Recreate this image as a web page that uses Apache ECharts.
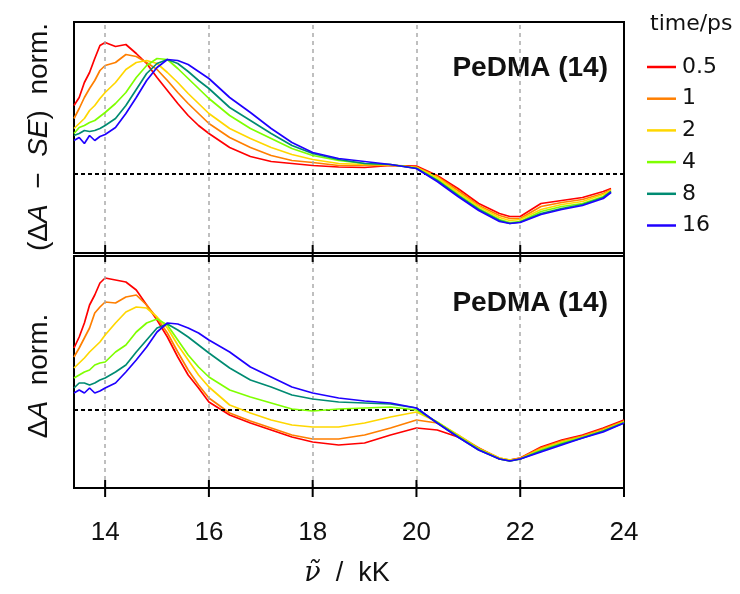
<!DOCTYPE html>
<html><head><meta charset="utf-8">
<script src="https://cdn.jsdelivr.net/npm/echarts@6/dist/echarts.min.js"></script>
<style>html,body{margin:0;padding:0;background:#fff}#c{width:740px;height:594px}</style>
</head><body><div id="c"></div>
<script>
// wavenumber sample points (kK)
const xTop = [13.4,13.5,13.6,13.7,13.8,13.9,14.0,14.2,14.4,14.6,14.8,15.0,15.2,15.4,15.6,15.8,16.0,16.4,16.8,17.2,17.6,18.0,18.5,19.0,19.5,20.0,20.4,20.8,21.2,21.6,21.8,22.0,22.4,22.8,23.2,23.6,23.75];
const xBot = [13.4,13.5,13.6,13.7,13.8,13.9,14.0,14.2,14.4,14.6,14.8,15.0,15.2,15.4,15.6,15.8,16.0,16.4,16.8,17.2,17.6,18.0,18.5,19.0,19.5,20.0,20.4,20.8,21.2,21.6,21.8,22.0,22.4,22.8,23.2,23.6,24.0];
const times = ['0.5','1','2','4','8','16'];
const colors = ['#ff0000','#ff7f00','#ffd700','#7fff00','#008b72','#1f00ff'];
const xTicks = [14,16,18,20,22,24];

// (ΔA − SE) norm.
const top_05 = [0.68,0.76,0.91,1.01,1.15,1.28,1.31,1.27,1.29,1.20,1.10,0.96,0.83,0.70,0.58,0.48,0.40,0.26,0.17,0.12,0.10,0.08,0.065,0.06,0.08,0.075,-0.02,-0.15,-0.30,-0.40,-0.43,-0.43,-0.30,-0.27,-0.24,-0.18,-0.15];
const top_1  = [0.55,0.65,0.76,0.85,0.93,1.03,1.08,1.11,1.19,1.17,1.11,1.04,0.93,0.81,0.70,0.60,0.50,0.36,0.26,0.18,0.13,0.11,0.08,0.08,0.08,0.065,-0.03,-0.17,-0.32,-0.42,-0.45,-0.45,-0.33,-0.29,-0.26,-0.20,-0.16];
const top_2  = [0.45,0.50,0.55,0.63,0.68,0.75,0.81,0.91,1.04,1.11,1.13,1.10,1.01,0.91,0.80,0.70,0.60,0.45,0.35,0.26,0.19,0.14,0.10,0.09,0.085,0.06,-0.04,-0.19,-0.33,-0.44,-0.47,-0.46,-0.36,-0.31,-0.28,-0.21,-0.17];
const top_4  = [0.40,0.46,0.48,0.51,0.53,0.57,0.61,0.70,0.81,0.96,1.08,1.15,1.14,1.05,0.95,0.85,0.75,0.58,0.45,0.35,0.25,0.18,0.13,0.10,0.09,0.055,-0.06,-0.21,-0.35,-0.46,-0.49,-0.48,-0.38,-0.33,-0.30,-0.23,-0.18];
const top_8  = [0.38,0.40,0.43,0.42,0.43,0.45,0.48,0.55,0.68,0.84,1.00,1.10,1.14,1.10,1.02,0.93,0.85,0.66,0.53,0.40,0.28,0.20,0.14,0.10,0.09,0.05,-0.07,-0.22,-0.36,-0.47,-0.50,-0.485,-0.40,-0.35,-0.31,-0.24,-0.18];
const top_16 = [0.33,0.36,0.30,0.38,0.33,0.37,0.39,0.46,0.60,0.76,0.93,1.06,1.14,1.13,1.09,1.02,0.95,0.76,0.61,0.45,0.31,0.21,0.15,0.12,0.09,0.05,-0.08,-0.23,-0.37,-0.48,-0.50,-0.49,-0.41,-0.36,-0.32,-0.25,-0.19];

// ΔA norm.
const bot_05 = [0.62,0.73,0.87,1.05,1.15,1.27,1.32,1.30,1.28,1.20,1.05,0.90,0.73,0.53,0.35,0.22,0.08,-0.05,-0.13,-0.20,-0.27,-0.32,-0.35,-0.33,-0.25,-0.18,-0.20,-0.27,-0.38,-0.49,-0.50,-0.48,-0.37,-0.30,-0.25,-0.18,-0.10];
const bot_1  = [0.53,0.62,0.72,0.82,0.97,1.03,1.08,1.07,1.13,1.15,1.05,0.92,0.77,0.58,0.40,0.25,0.12,-0.03,-0.11,-0.18,-0.25,-0.29,-0.29,-0.25,-0.18,-0.10,-0.13,-0.25,-0.38,-0.48,-0.50,-0.48,-0.38,-0.31,-0.26,-0.19,-0.11];
const bot_2  = [0.42,0.47,0.52,0.58,0.63,0.68,0.75,0.87,0.98,1.03,1.02,0.93,0.82,0.65,0.50,0.35,0.23,0.05,-0.03,-0.10,-0.15,-0.17,-0.17,-0.13,-0.07,-0.02,-0.12,-0.25,-0.39,-0.48,-0.50,-0.49,-0.39,-0.32,-0.27,-0.20,-0.12];
const bot_4  = [0.32,0.35,0.38,0.40,0.45,0.47,0.48,0.58,0.65,0.78,0.87,0.91,0.85,0.70,0.55,0.43,0.33,0.20,0.13,0.07,0.01,-0.01,0.01,0.02,0.03,0.00,-0.12,-0.26,-0.39,-0.49,-0.51,-0.49,-0.40,-0.33,-0.27,-0.21,-0.12];
const bot_8  = [0.22,0.27,0.27,0.25,0.27,0.30,0.32,0.38,0.45,0.58,0.70,0.82,0.86,0.80,0.73,0.65,0.57,0.42,0.30,0.23,0.15,0.11,0.08,0.07,0.06,0.02,-0.13,-0.27,-0.40,-0.49,-0.51,-0.49,-0.41,-0.34,-0.28,-0.21,-0.13];
const bot_16 = [0.17,0.20,0.17,0.22,0.17,0.19,0.22,0.27,0.38,0.50,0.63,0.78,0.87,0.86,0.82,0.77,0.70,0.58,0.43,0.33,0.23,0.17,0.12,0.09,0.07,0.02,-0.13,-0.27,-0.40,-0.49,-0.51,-0.49,-0.42,-0.35,-0.28,-0.22,-0.13];

const topSets = [top_05, top_1, top_2, top_4, top_8, top_16];
const botSets = [bot_05, bot_1, bot_2, bot_4, bot_8, bot_16];

const FONT = 'Liberation Sans';
const TOP_MIN = -0.795, TOP_MAX = 1.515, BOT_MIN = -0.78, BOT_MAX = 1.54;
const chart = echarts.init(document.getElementById('c'), null, {renderer: 'canvas'});

function pairs(xs, ys) { return xs.map((x, i) => [x, ys[i]]); }

const series = [];
[0, 1].forEach(g => {
  series.push({
    name: 'ref' + g, type: 'line', data: [], xAxisIndex: g, yAxisIndex: g, z: 1, silent: true,
    markLine: {
      silent: true, symbol: 'none', animation: false, label: {show: false},
      lineStyle: {color: '#aaaaaa', type: [4, 4], width: 1.5},
      data: xTicks.slice(0, 5).map(v => ({xAxis: v})).concat([
        {yAxis: 0, lineStyle: {color: '#000', type: [4, 3], width: 1.8}}
      ])
    }
  });
  // tick marks crossing the bottom frame, drawn through the axis scales
  const ymin = g === 0 ? TOP_MIN : BOT_MIN;
  series.push({
    name: 'ticks' + g, type: 'custom', xAxisIndex: g, yAxisIndex: g, z: 50, silent: true, clip: false,
    data: xTicks.map(v => [v, ymin]),
    renderItem: function (params, api) {
      const p = api.coord([api.value(0), api.value(1)]);
      return {type: 'line', shape: {x1: p[0], y1: p[1] - 8, x2: p[0], y2: p[1] + 9},
        style: {stroke: '#000', lineWidth: 2}};
    }
  });
});
times.forEach((t, i) => {
  series.push({
    name: t, type: 'line', xAxisIndex: 0, yAxisIndex: 0, showSymbol: false, symbol: 'none', z: 3 + i,
    lineStyle: {color: colors[i], width: 1.7}, itemStyle: {color: colors[i]},
    data: pairs(xTop, topSets[i])
  });
  series.push({
    name: t, type: 'line', xAxisIndex: 1, yAxisIndex: 1, showSymbol: false, symbol: 'none', z: 3 + i,
    lineStyle: {color: colors[i], width: 1.7}, itemStyle: {color: colors[i]},
    data: pairs(xBot, botSets[i])
  });
});

function xa(grid, labels) {
  return {
    type: 'value', gridIndex: grid, min: 13.4, max: 24, position: 'bottom', z: 10,
    axisLine: {show: true, onZero: false, lineStyle: {color: '#000', width: 2}},
    axisTick: {show: false},
    axisLabel: {show: labels, showMinLabel: false, margin: 32, color: '#111', fontSize: 26, fontFamily: FONT,
      formatter: v => (xTicks.indexOf(v) >= 0 ? String(v) : '')},
    splitLine: {show: false}
  };
}

const nameStyle = {font: '28px "Liberation Sans"', fill: '#111', align: 'center', verticalAlign: 'middle',
  rich: {i: {fontStyle: 'italic', fontSize: 28, fontFamily: FONT, fill: '#111'}, n: {fontSize: 28, fontFamily: FONT, fill: '#111'}}};

const option = {
  animation: false,
  backgroundColor: '#fff',
  title: {text: 'time/ps', left: 645, top: 8, textStyle: {fontSize: 22, fontWeight: 'normal', color: '#111', fontFamily: 'DejaVu Sans'}},
  legend: {
    data: times, orient: 'vertical', left: 642, top: 51, icon: 'rect', itemWidth: 29, itemHeight: 2.5,
    itemGap: 9.7, textStyle: {fontSize: 22, color: '#111', fontFamily: 'DejaVu Sans', lineHeight: 22, padding: [0, 0, 0, 1]}
  },
  grid: [
    {left: 74, top: 22, width: 550, height: 231, show: true, borderColor: '#000', borderWidth: 2, backgroundColor: 'transparent'},
    {left: 74, top: 256, width: 550, height: 232, show: true, borderColor: '#000', borderWidth: 2, backgroundColor: 'transparent'}
  ],
  xAxis: [xa(0, false), xa(1, true)],
  yAxis: [
    {type: 'value', gridIndex: 0, min: TOP_MIN, max: TOP_MAX, axisLine: {show: false}, axisTick: {show: false}, axisLabel: {show: false}, splitLine: {show: false}},
    {type: 'value', gridIndex: 1, min: BOT_MIN, max: BOT_MAX, axisLine: {show: false}, axisTick: {show: false}, axisLabel: {show: false}, splitLine: {show: false}}
  ],
  graphic: [
    {type: 'text', right: 132, top: 54, style: {text: 'PeDMA (14)', font: 'bold 28px "Liberation Sans"', fill: '#111'}},
    {type: 'text', right: 132, top: 289, style: {text: 'PeDMA (14)', font: 'bold 28px "Liberation Sans"', fill: '#111'}},
    {type: 'text', x: 39, y: 137, rotation: Math.PI / 2, style: Object.assign({}, nameStyle, {text: '{n|(Δ}{i|A}{n|  −  }{i|SE}{n|)  norm.}'})},
    {type: 'text', x: 39, y: 376, rotation: Math.PI / 2, style: Object.assign({}, nameStyle, {text: '{n|Δ}{i|A}{n|  norm.}'})},
    {type: 'text', x: 347, y: 574, style: {text: '{i|ν̃}{n|  /  kK}', font: '26px "Liberation Sans"', fill: '#111', align: 'center', verticalAlign: 'middle',
      rich: {i: {fontStyle: 'italic', fontSize: 27, fontFamily: 'DejaVu Serif', fill: '#111'}, n: {fontSize: 27, fontFamily: FONT, fill: '#111'}}}}
  ],
  series: series
};
chart.setOption(option);
</script></body></html>
